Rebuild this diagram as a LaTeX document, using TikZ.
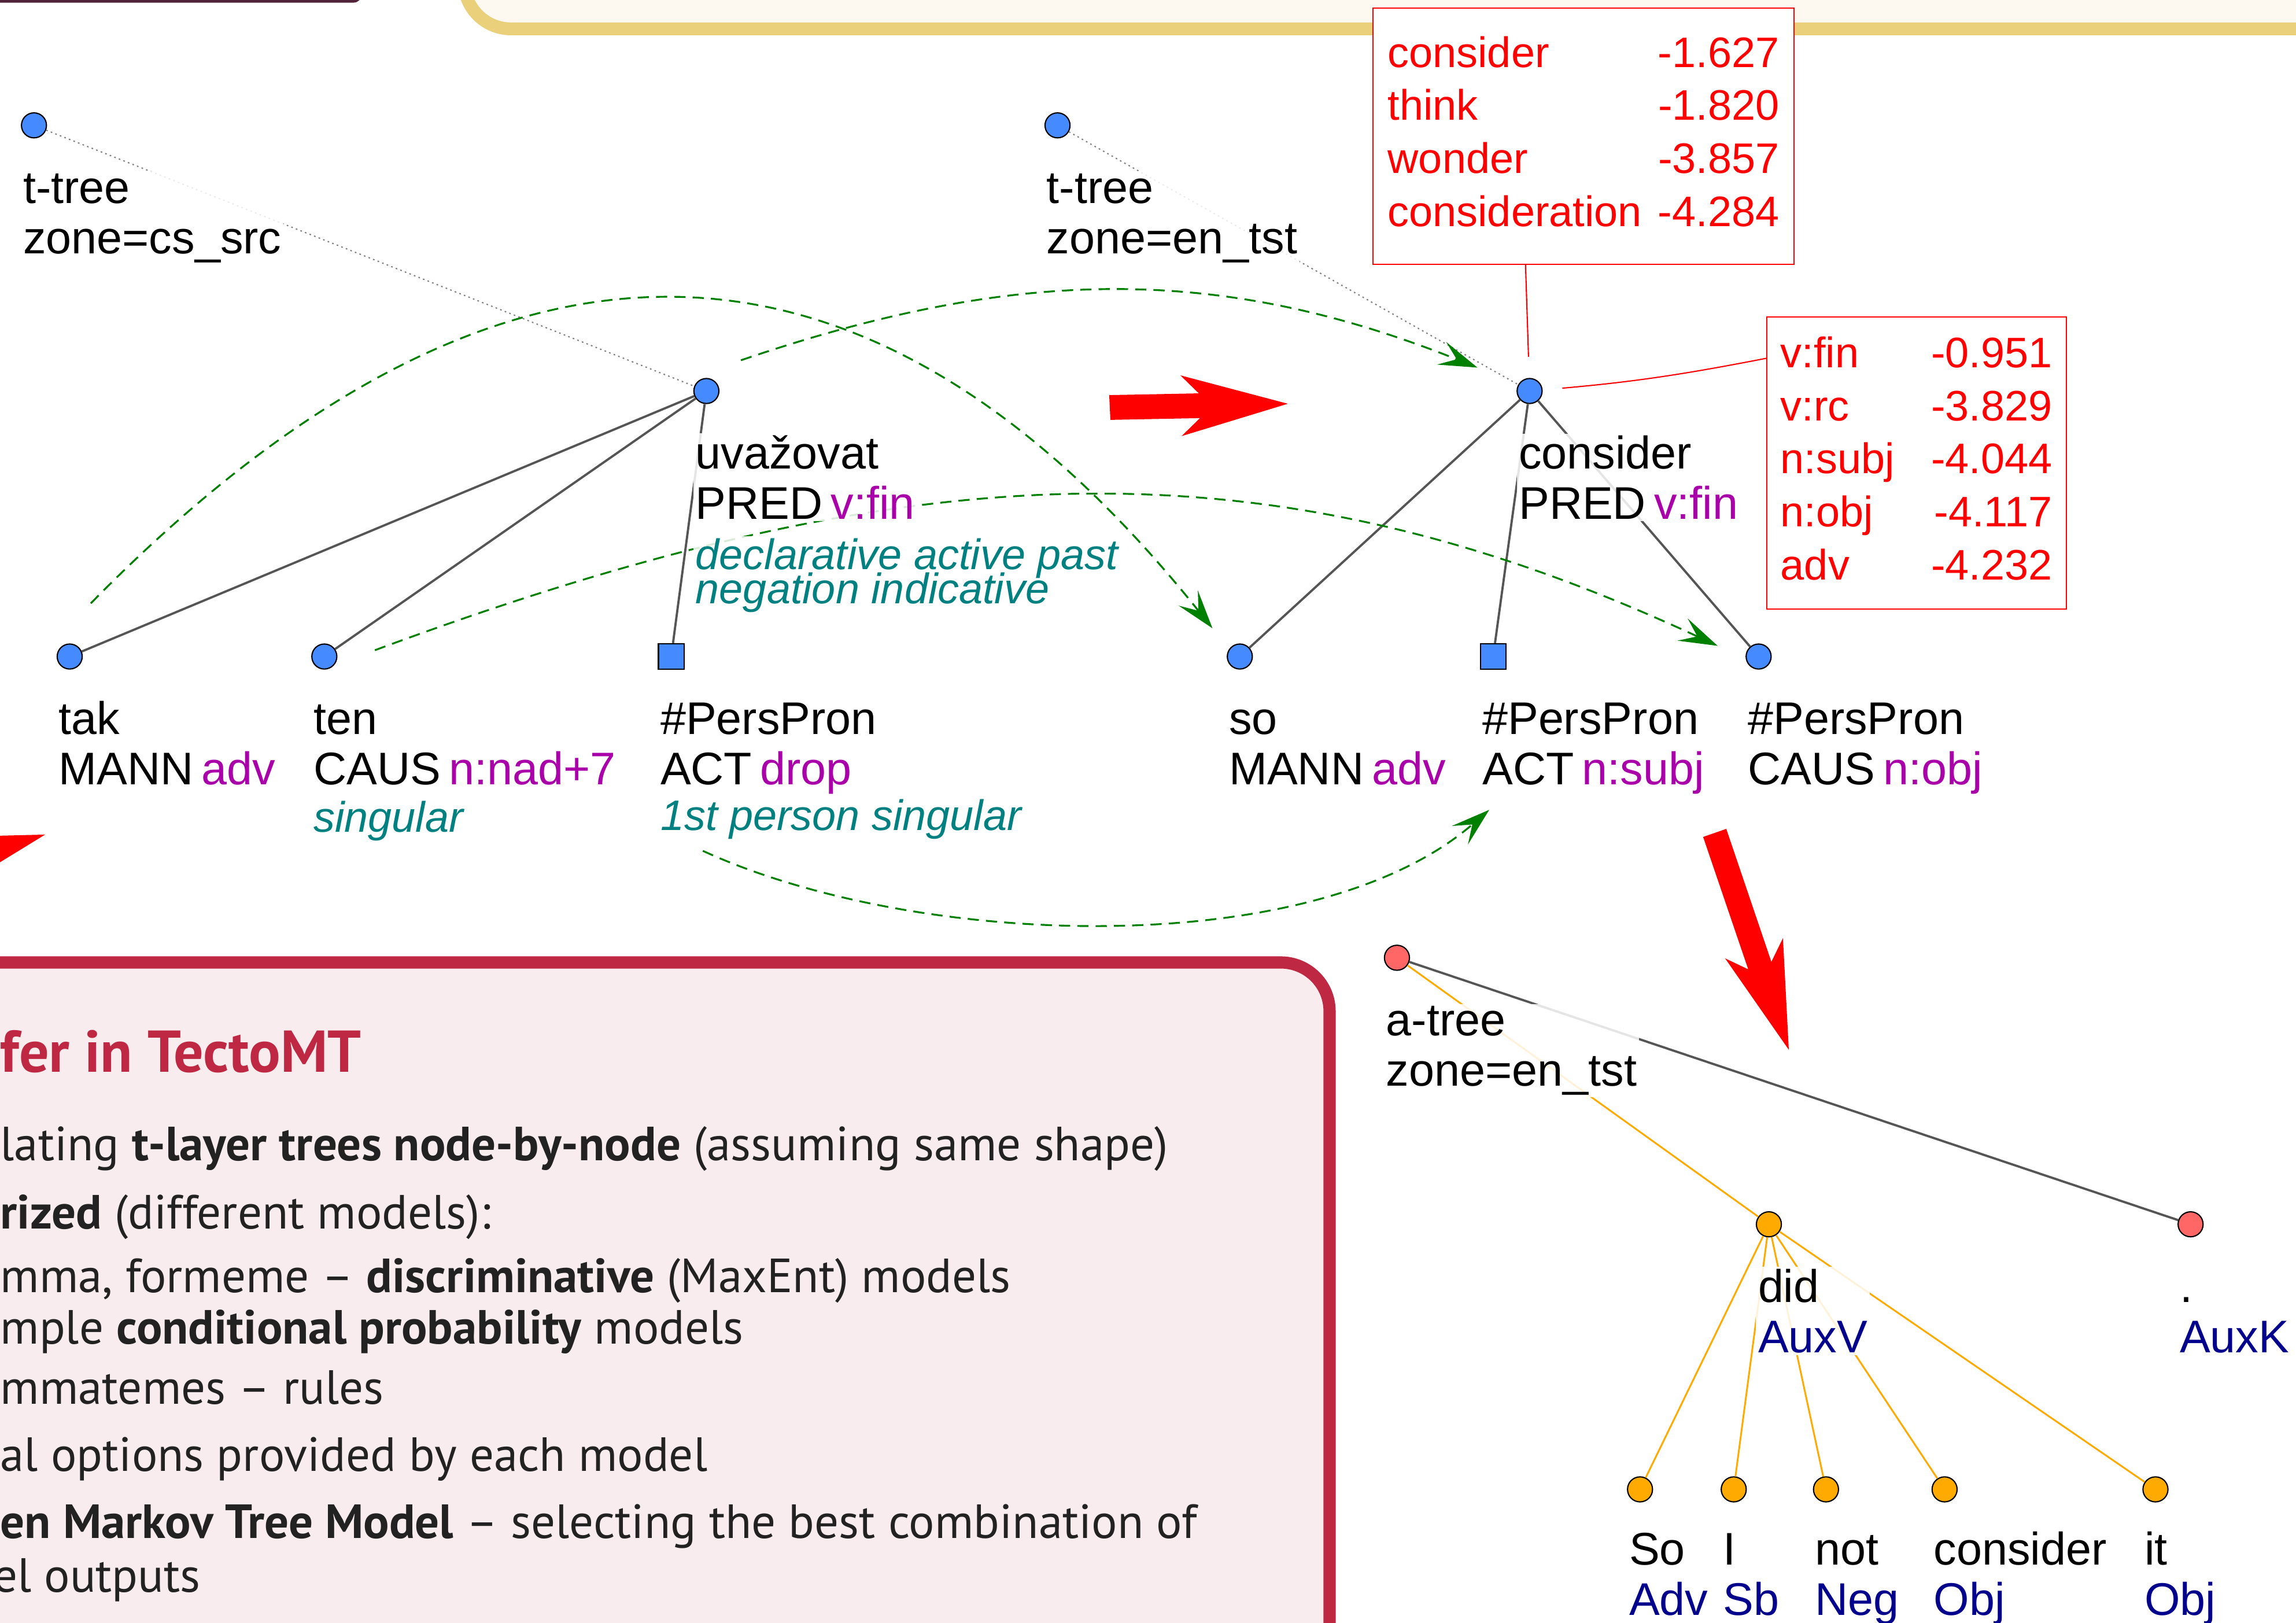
\documentclass[tikz,border=0pt]{standalone}
\usepackage{fontspec}
\setmainfont{Liberation Sans}
\newfontfamily\boxfont{PT Sans}
\usetikzlibrary{arrows.meta}
\definecolor{tblue}{RGB}{70,138,255}
\definecolor{apink}{RGB}{255,102,102}
\definecolor{aorange}{RGB}{255,170,0}
\definecolor{edgegray}{RGB}{85,85,85}
\definecolor{vio}{RGB}{170,0,170}
\definecolor{gramteal}{RGB}{0,128,128}
\definecolor{afun}{RGB}{0,0,140}
\definecolor{algreen}{RGB}{0,128,0}
\definecolor{yel}{RGB}{234,208,122}
\definecolor{cream}{RGB}{253,249,240}
\definecolor{crim}{RGB}{190,40,67}
\definecolor{pinkbg}{RGB}{248,236,238}
\definecolor{darkbar}{RGB}{81,35,56}
\definecolor{textdark}{RGB}{34,34,34}

\begin{document}
\begin{tikzpicture}[x=0.72pt,y=-0.72pt,
  tnode/.style={circle,draw=black,line width=0.6pt,fill=tblue,minimum size=12.3pt,inner sep=0pt},
  tsquare/.style={rectangle,draw=black,line width=0.6pt,fill=tblue,minimum size=12.6pt,inner sep=0pt},
  anode/.style={tnode,fill=apink},
  onode/.style={tnode,fill=aorange},
  lab/.style={anchor=base west,align=left,inner sep=1pt,fill=white,fill opacity=0.85,text opacity=1,font=\fontsize{22.5}{24.8}\selectfont},
  gram/.style={lab,text=gramteal,font=\fontsize{21}{24.8}\selectfont\itshape},
  tedge/.style={draw=edgegray,line width=1.1pt},
  aedge/.style={draw=aorange,line width=0.85pt},
  rootlink/.style={draw=gray,line width=0.6pt,dash pattern=on 0.8pt off 1.6pt},
  alnarrow/.style={draw=algreen,line width=0.9pt,dash pattern=on 5.5pt off 3.5pt,-{Stealth[length=19pt,width=12pt,inset=8pt]}},
  candbox/.style={draw=red,line width=0.6pt,fill=white,text=red,inner sep=0pt,font=\fontsize{21}{26.1}\selectfont},
  candline/.style={draw=red,line width=0.6pt},
  slide/.style={anchor=base west,inner sep=0pt,text=textdark,font=\boxfont\fontsize{23.6}{28}\selectfont},
  slidetitle/.style={slide,text=crim,font=\boxfont\bfseries\fontsize{29}{34}\selectfont}]
\useasboundingbox (0,0) rectangle (1568,1108);
\fill[white] (0,0) rectangle (1568,1108);

\fill[darkbar,rounded corners=4pt] (-20,-20) rectangle (247,1.8);
\draw[yel,line width=6.3pt,fill=cream,rounded corners=23pt] (317,-60) rectangle (1700,19.7);
\draw[crim,line width=6pt,fill=pinkbg,rounded corners=24pt] (-60,657.2) rectangle (908,1200);

\fill[red] (757.5,269.8) -- (818.7,268.6) -- (806.1,256.3) -- (879.5,275.7) -- (806.9,297.8) -- (819.5,285.5) -- (758.3,286.7) -- cycle;
\fill[red] (1163.1,571.5) -- (1178.9,566) -- (1209.7,656.8) -- (1217.6,640.6) -- (1221.6,716.8) -- (1178.1,654.4) -- (1193.9,661.9) -- cycle;
\fill[red] (-2,570.7) -- (30.8,569.9) -- (-2,590) -- cycle;

\node[tnode] (csroot) at (23.2,85.6) {};
\node[tnode] (uvazovat) at (482.4,267) {};
\node[tnode] (tak) at (47.6,448.3) {};
\node[tnode] (ten) at (221.5,448.3) {};
\node[tsquare] (csperspron) at (458.4,448.3) {};

\node[tnode] (enroot) at (722.2,85.6) {};
\node[tnode] (consider) at (1044.6,267) {};
\node[tnode] (so) at (846.7,448.3) {};
\node[tsquare] (enactor) at (1019.7,448.3) {};
\node[tnode] (encause) at (1201,448.3) {};

\node[anode] (aroot) at (954,654) {};
\node[onode] (did) at (1208,836) {};
\node[anode] (aperiod) at (1496,836) {};
\node[onode] (aso) at (1120,1017) {};
\node[onode] (ai) at (1184,1017) {};
\node[onode] (anot) at (1247,1017) {};
\node[onode] (aconsider) at (1328,1017) {};
\node[onode] (ait) at (1472,1017) {};

\draw[rootlink] (csroot) -- (uvazovat);
\draw[tedge] (uvazovat) -- (tak);
\draw[tedge] (uvazovat) -- (ten);
\draw[tedge] (uvazovat) -- (csperspron);
\draw[rootlink] (enroot) -- (consider);
\draw[tedge] (consider) -- (so);
\draw[tedge] (consider) -- (enactor);
\draw[tedge] (consider) -- (encause);
\draw[aedge] (aroot) -- (did);
\draw[tedge] (aroot) -- (aperiod);
\draw[aedge] (did) -- (aso);
\draw[aedge] (did) -- (ai);
\draw[aedge] (did) -- (anot);
\draw[aedge] (did) -- (aconsider);
\draw[aedge] (did) -- (ait);

\coordinate (takA) at (62,412);
\coordinate (soA) at (828,429);
\coordinate (uvazovatA) at (506,246);
\coordinate (considerA) at (1009,251);
\coordinate (tenA) at (256,444);
\coordinate (encauseA) at (1173,441);
\coordinate (csperspronA) at (480,581);
\coordinate (enactorA) at (1017,553);
\draw[alnarrow] (takA) .. controls (324,145) and (580,119) .. (soA);
\draw[alnarrow] (uvazovatA) .. controls (691,183) and (830,179.5) .. (considerA);
\draw[alnarrow] (tenA) .. controls (628,306) and (869,300) .. (encauseA);
\draw[alnarrow] (csperspronA) .. controls (626,648) and (897,657) .. (enactorA);

\node[candbox,minimum width=206.8pt,minimum height=126pt] (lemmas) at (1081.4,93) {\begin{tabular}{@{}l@{\hspace{8pt}}r@{}}consider&-1.627\\think&-1.820\\wonder&-3.857\\consideration&-4.284\end{tabular}};
\node[candbox,minimum width=147.2pt,minimum height=143.8pt] (formemes) at (1308.8,316.2) {\begin{tabular}{@{}l@{\hspace{18pt}}r@{}}v:fin&-0.951\\v:rc&-3.829\\n:subj&-4.044\\n:obj&-4.117\\adv&-4.232\end{tabular}};
\draw[candline,shorten >=10.4pt] ([xshift=75.2pt]lemmas.south west) -- (consider);
\draw[candline,shorten >=9.7pt] ([yshift=-20.7pt]formemes.north west) to[bend left=3] (consider);

\node[lab] (csrootl) at (14.2,173.1) {t-tree\\zone=cs\_src};
\node[lab] (uvazovatl) at (473.4,354.5) {uvažovat\\PRED\hspace{4pt}\textcolor{vio}{v:fin}};
\node[gram] (uvazovatg) at (473.4,412) {declarative active past\\[-8.1pt]negation indicative};
\node[lab] (takl) at (38.6,535.8) {tak\\MANN\hspace{4pt}\textcolor{vio}{adv}};
\node[lab] (tenl) at (212.5,535.8) {ten\\CAUS\hspace{4pt}\textcolor{vio}{n:nad+7}};
\node[gram] (teng) at (212.5,568) {singular};
\node[lab] (csperspronl) at (449.4,535.8) {\#PersPron\\ACT\hspace{4pt}\textcolor{vio}{drop}};
\node[gram] (cspersprong) at (449.4,567) {1st person singular};

\node[lab] (enrootl) at (713.2,173.1) {t-tree\\zone=en\_tst};
\node[lab] (considerl) at (1035.6,354.5) {consider\\PRED\hspace{4pt}\textcolor{vio}{v:fin}};
\node[lab] (sol) at (837.7,535.8) {so\\MANN\hspace{4pt}\textcolor{vio}{adv}};
\node[lab] (enactorl) at (1010.7,535.8) {\#PersPron\\ACT\hspace{4pt}\textcolor{vio}{n:subj}};
\node[lab] (encausel) at (1192,535.8) {\#PersPron\\CAUS\hspace{4pt}\textcolor{vio}{n:obj}};

\node[lab] (arootl) at (945,741.5) {a-tree\\zone=en\_tst};
\node[lab] (didl) at (1199,923.5) {did\\\textcolor{afun}{AuxV}};
\node[lab] (aperiodl) at (1487,923.5) {.\\\textcolor{afun}{AuxK}};
\node[lab] (asol) at (1111,1103) {So\\\textcolor{afun}{Adv}};
\node[lab] (ail) at (1175,1103) {I\\\textcolor{afun}{Sb}};
\node[lab] (anotl) at (1238,1103) {not\\\textcolor{afun}{Neg}};
\node[lab] (aconsiderl) at (1319,1103) {consider\\\textcolor{afun}{Obj}};
\node[lab] (aitl) at (1463,1103) {it\\\textcolor{afun}{Obj}};

\node[slidetitle] (title) at (0,732) {fer in TectoMT};
\node[slide] (p1) at (0,792.6) {lating \textbf{t-layer trees node-by-node} (assuming same shape)};
\node[slide] (p2) at (0,839) {\textbf{rized} (different models):};
\node[slide] (p3) at (0,882.7) {mma, formeme – \textbf{discriminative} (MaxEnt) models};
\node[slide] (p4) at (0,917.5) {mple \textbf{conditional probability} models};
\node[slide] (p5) at (0,958.7) {mmatemes – rules};
\node[slide] (p6) at (0,1004.5) {al options provided by each model};
\node[slide] (p7) at (0,1050.5) {\textbf{en Markov Tree Model} – selecting the best combination of};
\node[slide] (p8) at (-5,1087) {el outputs};
\end{tikzpicture}
\end{document}
